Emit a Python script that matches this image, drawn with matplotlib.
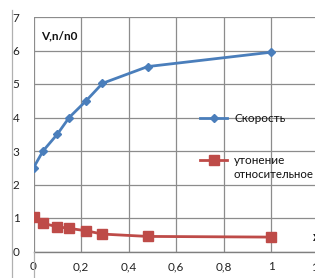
import matplotlib
matplotlib.use("Agg")
import matplotlib.pyplot as plt
from matplotlib.lines import Line2D

plt.rcParams['font.family'] = ['Lato', 'DejaVu Sans']

x_vals = [0, 0.04, 0.1, 0.15, 0.22, 0.29, 0.48, 1.0]
speed = [2.5, 3.0, 3.5, 4.0, 4.49, 5.02, 5.52, 5.95]
x_thin = [0, 0.04, 0.1, 0.15, 0.22, 0.29, 0.48, 1.0]
thinning = [1.04, 0.84, 0.74, 0.69, 0.62, 0.52, 0.45, 0.43]
x_ticks = [0, 0.2, 0.4, 0.6, 0.8, 1.0, 1.2]
x_ticklabels = ["0", "0,2", "0,4", "0,6", "0,8", "1", "1,2"]
y_ticks = [0, 1, 2, 3, 4, 5, 6, 7]
label_speed = "Скорость"
label_thin = "утонение"
label_thin2 = "относительное"
y_title = "V,n/n0"
x_title = "x"

blue = "#4A7EBB"
red = "#BE4B48"

fig = plt.figure(figsize=(3.15, 2.78), dpi=100)
ax = fig.add_axes([33.5/315, 26.5/278, (319-33.5)/315, (251.5-17)/278])
ax.set_xlim(0, 1.2)
ax.set_ylim(0, 7)

ax.plot(x_vals, speed, color=blue, lw=2.0, marker='D', ms=4.5,
        markerfacecolor=blue, markeredgecolor=blue, label=label_speed, zorder=3)
ax.plot(x_thin, thinning, color=red, lw=2.0, marker='s', ms=6.5,
        markerfacecolor=red, markeredgecolor=red, label=label_thin, zorder=3)

ax.set_xticks(x_ticks)
ax.set_xticklabels(x_ticklabels)
ax.set_yticks(y_ticks)
ax.grid(True, color="#8c8c8c", lw=0.9)
ax.set_axisbelow(True)
for s in ['top', 'right', 'left']:
    ax.spines[s].set_visible(False)
ax.spines['bottom'].set_color("#7f7f7f")
ax.spines['bottom'].set_linewidth(1.0)
ax.tick_params(axis='both', length=0, labelsize=8.5, colors='#222222')
ax.tick_params(axis='y', pad=10)
ax.tick_params(axis='x', pad=7)

ax.text(0.03, 6.45, y_title, fontsize=8.5, fontweight='bold', color='#111111', va='center')
ax.text(1.175, 0.42, x_title, fontsize=9, fontweight='bold', color='#111111', va='center')

leg = ax.legend(loc='upper left', bbox_to_anchor=((200-33.5)/285.5, (251.5-113)/234.5),
                frameon=False, fontsize=8.5, handlelength=2.3, handletextpad=0.6,
                labelspacing=2.65, borderpad=0, borderaxespad=0)
for t in leg.get_texts():
    t.set_color('#111111')
ax.text(233, 278-174, label_thin2, transform=None, fontsize=8.2, va='center', color='#111111')

fig.add_artist(Line2D([12/315, 12/315], [0, 1-10/278], color="#b0b0b0", lw=0.9))
fig.add_artist(Line2D([33.5/315, 33.5/315], [0, 26.5/278], color="#b0b0b0", lw=0.9))

fig.savefig("out.png", dpi=100)
